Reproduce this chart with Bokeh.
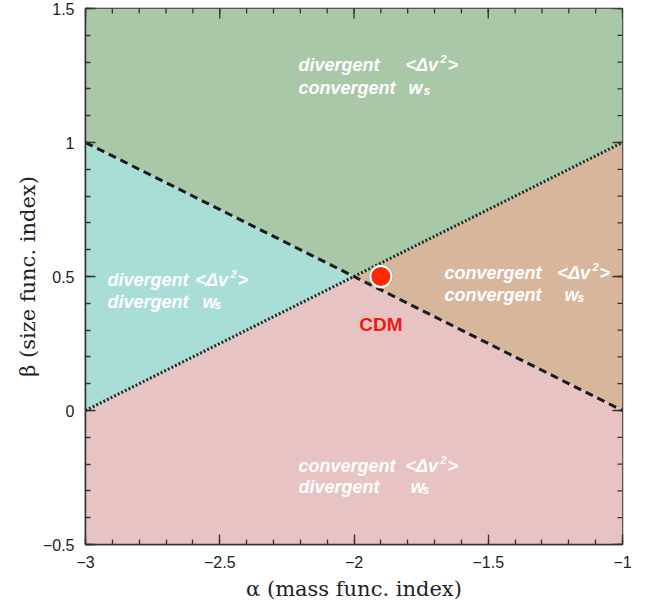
import math
from bokeh.plotting import figure
from bokeh.models import LinearAxis, Label, Range1d, FixedTicker
from bokeh.embed import file_html
from bokeh.resources import INLINE

# ---------------- data ----------------
alpha_range = [-3.0, -1.0]
beta_range = [-0.5, 1.5]
line_alpha = [-3.0, -2.0, -1.0]          # alpha sampling of the boundary lines
dashed_beta = [1.0, 0.5, 0.0]            # <dv^2> boundary  beta = -(alpha+1)/2
dotted_beta = [0.0, 0.5, 1.0]            # w_s boundary     beta = (alpha+3)/2
cdm_alpha = [-1.9]
cdm_beta = [0.5]
x_ticks = [-3, -2.5, -2, -1.5, -1]
x_tick_labels = ["\u22123", "\u22122.5", "\u22122", "\u22121.5", "\u22121"]
y_ticks = [-0.5, 0, 0.5, 1, 1.5]
y_tick_labels = ["\u22120.5", "0", "0.5", "1", "1.5"]
x_minor = [-3 + 0.1 * i for i in range(21)]
y_minor = [-0.5 + 0.1 * i for i in range(21)]
region_colors = ["#a9c8a8", "#a9ded6", "#d8b69c", "#e7c3c4"]
region_line1 = ["divergent", "divergent", "convergent", "convergent"]
region_line2 = ["convergent", "divergent", "convergent", "divergent"]

W, H = 645, 606
L, R, T, B = 85, 23, 8, 62
fw, fh = W - L - R, H - T - B


def dx(px):
    return alpha_range[0] + (px - L) * (alpha_range[1] - alpha_range[0]) / fw


def dy(py):
    return beta_range[1] - (py - T) * (beta_range[1] - beta_range[0]) / fh


p = figure(width=W, height=H, output_backend="svg", toolbar_location=None,
           x_range=Range1d(*alpha_range), y_range=Range1d(*beta_range),
           min_border_left=L, min_border_right=R, min_border_top=T, min_border_bottom=B,
           x_axis_location=None, y_axis_location=None)
p.grid.visible = False
p.background_fill_color = "white"
p.border_fill_color = "white"
p.outline_line_color = "#333333"
p.outline_line_width = 1.5

a0, a1 = alpha_range
b0, b1 = beta_range
# regions built from the boundary arrays
top_x = [a0, a1, a1, line_alpha[1], a0]
top_y = [b1, b1, dotted_beta[2], dashed_beta[1], dashed_beta[0]]
left_x = [a0, line_alpha[1], a0]
left_y = [dashed_beta[0], dashed_beta[1], dotted_beta[0]]
right_x = [a1, line_alpha[1], a1]
right_y = [dotted_beta[2], dotted_beta[1], dashed_beta[2]]
bot_x = [a0, line_alpha[1], a1, a1, a0]
bot_y = [dotted_beta[0], dotted_beta[1], dashed_beta[2], b0, b0]
p.patches([top_x, left_x, right_x, bot_x], [top_y, left_y, right_y, bot_y],
          fill_color=region_colors, line_color=None)

p.line(line_alpha, dotted_beta, line_color="#1b2f2b", line_width=3, line_dash="2 2")
p.line(line_alpha, dashed_beta, line_color="#1a1c1c", line_width=3, line_dash="8 5")

p.scatter(cdm_alpha, cdm_beta, size=25, fill_color="#9a9a9a", fill_alpha=0.5, line_color=None)
p.scatter(cdm_alpha, cdm_beta, size=21, fill_color="#ff2a00", line_color="white", line_width=2)

# mirrored ticks on top and right edges (half of each dash is clipped by the frame)
tick_col = "#333333"
p.scatter(x_ticks, [b1] * len(x_ticks), marker="dash", angle=math.pi / 2, size=20,
          line_color=tick_col, line_width=1.3)
p.scatter(x_minor, [b1] * len(x_minor), marker="dash", angle=math.pi / 2, size=10,
          line_color=tick_col, line_width=1.3)
p.scatter([a1] * len(y_ticks), y_ticks, marker="dash", size=20,
          line_color=tick_col, line_width=1.3)
p.scatter([a1] * len(y_minor), y_minor, marker="dash", size=10,
          line_color=tick_col, line_width=1.3)


def style_axis(ax, ticks, labels, minor):
    ax.ticker = FixedTicker(ticks=ticks, minor_ticks=minor)
    ax.axis_line_color = tick_col
    ax.axis_line_width = 1.5
    ax.major_tick_in = 10
    ax.major_tick_out = 0
    ax.minor_tick_in = 5
    ax.minor_tick_out = 0
    ax.major_tick_line_color = tick_col
    ax.minor_tick_line_color = tick_col
    ax.major_tick_line_width = 1.3
    ax.minor_tick_line_width = 1.3
    ax.major_label_overrides = {t: l for t, l in zip(ticks, labels)}
    ax.major_label_text_font = "Liberation Sans"
    ax.major_label_text_font_size = "16px"
    ax.major_label_text_color = "#222222"
    ax.major_label_standoff = 11
    ax.axis_label_text_font = "DejaVu Serif"
    ax.axis_label_text_font_style = "normal"
    ax.axis_label_text_font_size = "21px"
    ax.axis_label_text_color = "#222222"


xb = LinearAxis(axis_label="\u03b1 (mass func. index)")
style_axis(xb, x_ticks, x_tick_labels, x_minor)
xb.axis_label_standoff = 6
p.add_layout(xb, "below")
yl = LinearAxis(axis_label="\u03b2 (size func. index)")
style_axis(yl, y_ticks, y_tick_labels, y_minor)
yl.axis_label_standoff = 0
p.add_layout(yl, "left")

# region annotations: (word x, line1 baseline, line2 baseline, dv x, w x, s x)
pos = [
    (298, 64, 87, 405, 408, 423),
    (107, 279, 301, 195, 202, 214),
    (444, 272, 294, 557, 564, 577),
    (298, 465, 486, 405, 410, 422),
]
sans = "Liberation Sans"
for (wx, y1, y2, dvx, wwx, sx), t1, t2 in zip(pos, region_line1, region_line2):
    common = dict(text_font=sans, text_font_style="bold italic", text_color="white",
                  text_align="left", text_baseline="alphabetic")
    p.add_layout(Label(x=dx(wx), y=dy(y1), text=t1, text_font_size="18px", **common))
    p.add_layout(Label(x=dx(dvx), y=dy(y1), text="<\u0394v", text_font_size="18px", **common))
    p.add_layout(Label(x=dx(dvx + 35), y=dy(y1 - 6), text="2", text_font_size="11px", **common))
    p.add_layout(Label(x=dx(dvx + 42), y=dy(y1), text=">", text_font_size="18px", **common))
    p.add_layout(Label(x=dx(wx), y=dy(y2), text=t2, text_font_size="18px", **common))
    p.add_layout(Label(x=dx(wwx), y=dy(y2), text="w", text_font_size="18px", **common))
    p.add_layout(Label(x=dx(sx), y=dy(y2 + 3), text="s", text_font_size="12px", **common))

p.add_layout(Label(x=cdm_alpha[0], y=dy(324), text="CDM", text_font=sans, text_font_style="bold",
                   text_font_size="19px", text_color="#ee1a0f", text_align="center",
                   text_baseline="alphabetic"))

open("out.html", "w").write(file_html(p, INLINE))
